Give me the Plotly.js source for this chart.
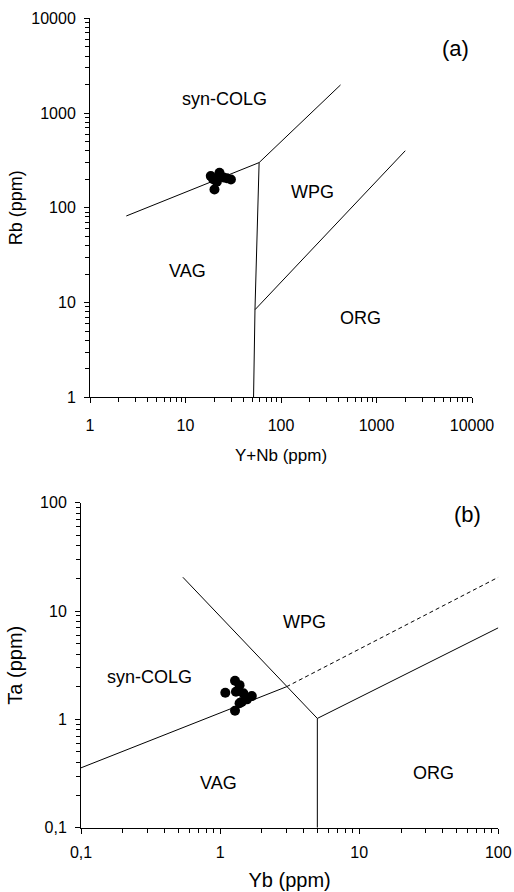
<!DOCTYPE html>
<html>
<head>
<meta charset="utf-8">
<script src="https://cdn.plot.ly/plotly-3.0.1.min.js"></script>
<style>html,body{margin:0;padding:0;background:#fff;}#chart{width:514px;height:892px;}</style>
</head>
<body>
<div id="chart"></div>
<script>
// ---- Data: diagram (a) Rb vs Y+Nb ----
var sampleA_YNb = [18.4, 22.7, 25.0, 29.9, 20.1, 21.3, 27.1, 19.5];
var sampleA_Rb  = [216, 234, 209, 199, 156, 188, 205, 200];

// boundary lines (a)
var a_vagCol_x = [2.4, 59];      var a_vagCol_y = [82, 300];
var a_colWpg_x = [59, 420];      var a_colWpg_y = [300, 1980];
var a_vert_x   = [51.6, 53.4, 59]; var a_vert_y = [1, 8.4, 300];
var a_wpgOrg_x = [53.4, 2000];   var a_wpgOrg_y = [8.4, 400];

// ---- Data: diagram (b) Ta vs Yb ----
var sampleB_Yb = [1.09, 1.28, 1.38, 1.30, 1.47, 1.69, 1.43, 1.56, 1.28, 1.38];
var sampleB_Ta = [1.76, 2.27, 2.07, 1.80, 1.74, 1.64, 1.45, 1.53, 1.20, 1.41];

var b_vagCol_x  = [0.1, 3];    var b_vagCol_y  = [0.357, 2.0];
var b_dash_x    = [3, 100];    var b_dash_y    = [2.0, 20.5];
var b_wpgVag_x  = [0.54, 5];   var b_wpgVag_y  = [20.5, 1.02];
var b_vert_x    = [5, 5];      var b_vert_y    = [1.02, 0.1];
var b_wpgOrg_x  = [5, 100];    var b_wpgOrg_y  = [1.02, 7.0];

// tick labels
var aTicksX = [1, 10, 100, 1000, 10000];
var aTickTextX = ["1", "10", "100", "1000", "10000"];
var aTicksY = [1, 10, 100, 1000, 10000];
var aTickTextY = ["1", "10", "100", "1000", "10000"];
var bTicksX = [0.1, 1, 10, 100];
var bTickTextX = ["0,1", "1", "10", "100"];
var bTicksY = [0.1, 1, 10, 100];
var bTickTextY = ["0,1", "1", "10", "100"];

// region labels
var aLabels = ["(a)", "syn-COLG", "WPG", "VAG", "ORG"];
var aLabelX = [3.826, 1.405, 2.327, 1.017, 2.830];
var aLabelY = [3.686, 3.147, 2.166, 1.332, 0.836];
var bLabels = ["(b)", "WPG", "syn-COLG", "VAG", "ORG"];
var bLabelX = [1.782, 0.610, -0.504, -0.015, 1.531];
var bLabelY = [1.887, 0.898, 0.391, -0.588, -0.495];

function minorVals(lo, hi) {
  var v = [];
  for (var e = lo; e < hi; e++) for (var k = 2; k <= 9; k++) v.push(k * Math.pow(10, e));
  return v;
}

var FONT = "Arial, 'Liberation Sans', sans-serif";

function seg(x, y, xa, ya, dash) {
  return {x: x, y: y, xaxis: xa, yaxis: ya, type: "scatter", mode: "lines",
          line: {color: "#000", width: 1, dash: dash || "solid"}, hoverinfo: "skip", showlegend: false};
}

var traces = [
  seg(a_vagCol_x, a_vagCol_y, "x", "y"),
  seg(a_colWpg_x, a_colWpg_y, "x", "y"),
  seg(a_vert_x, a_vert_y, "x", "y"),
  seg(a_wpgOrg_x, a_wpgOrg_y, "x", "y"),
  {x: sampleA_YNb, y: sampleA_Rb, xaxis: "x", yaxis: "y", type: "scatter", mode: "markers",
   marker: {color: "#000", size: 10}, showlegend: false},
  seg(b_vagCol_x, b_vagCol_y, "x2", "y2"),
  seg(b_dash_x, b_dash_y, "x2", "y2", "4px,3px"),
  seg(b_wpgVag_x, b_wpgVag_y, "x2", "y2"),
  seg(b_vert_x, b_vert_y, "x2", "y2"),
  seg(b_wpgOrg_x, b_wpgOrg_y, "x2", "y2"),
  {x: sampleB_Yb, y: sampleB_Ta, xaxis: "x2", yaxis: "y2", type: "scatter", mode: "markers",
   marker: {color: "#000", size: 10}, showlegend: false}
];

function axis(dom, anchor, tv, tt, mv, title, tsize, standoff, rng, lblStandoff) {
  return {
    type: "log", domain: dom, anchor: anchor, range: rng,
    tickmode: "array", tickvals: tv, ticktext: tt,
    ticks: "outside", ticklen: 5, tickwidth: 1, tickcolor: "#000",
    minor: {tickmode: "array", tickvals: mv, ticks: "outside", ticklen: 4, tickwidth: 1, tickcolor: "#000", showgrid: false},
    showline: true, linecolor: "#000", linewidth: 1, mirror: false,
    showgrid: false, zeroline: false,
    tickfont: {family: FONT, size: 16, color: "#000"},
    ticklabelstandoff: lblStandoff,
    title: {text: title, font: {family: FONT, size: tsize, color: "#000"}, standoff: standoff},
    fixedrange: true
  };
}

var annotations = [];
for (var i = 0; i < aLabels.length; i++) {
  annotations.push({x: aLabelX[i], y: aLabelY[i], xref: "x", yref: "y", text: aLabels[i], showarrow: false,
    font: {family: FONT, size: i === 0 ? 22 : 18, color: "#000"}});
}
for (var j = 0; j < bLabels.length; j++) {
  annotations.push({x: bLabelX[j], y: bLabelY[j], xref: "x2", yref: "y2", text: bLabels[j], showarrow: false,
    font: {family: FONT, size: j === 0 ? 22 : 18, color: "#000"}});
}

var layout = {
  width: 514, height: 892,
  margin: {l: 0, r: 0, t: 0, b: 0},
  paper_bgcolor: "#fff", plot_bgcolor: "#fff",
  showlegend: false,
  font: {family: FONT, color: "#000"},
  xaxis: axis([90/514, 472/514], "y", aTicksX, aTickTextX, minorVals(0, 4), "Y+Nb (ppm)", 17, 16, [0, 4], 8),
  yaxis: axis([1 - 397.3/892, 1 - 18.3/892], "x", aTicksY, aTickTextY, minorVals(0, 4), "Rb (ppm)", 18, 3, [0, 4], 5),
  xaxis2: axis([81/514, 498.3/514], "y2", bTicksX, bTickTextX, minorVals(-1, 2), "Yb (ppm)", 20, 13, [-1, 2], 5),
  yaxis2: axis([1 - 827.7/892, 1 - 502.7/892], "x2", bTicksY, bTickTextY, minorVals(-1, 2), "Ta (ppm)", 20, 12, [-1, 2], 5),
  annotations: annotations
};

Plotly.newPlot("chart", traces, layout, {displayModeBar: false, staticPlot: true});
</script>
</body>
</html>
